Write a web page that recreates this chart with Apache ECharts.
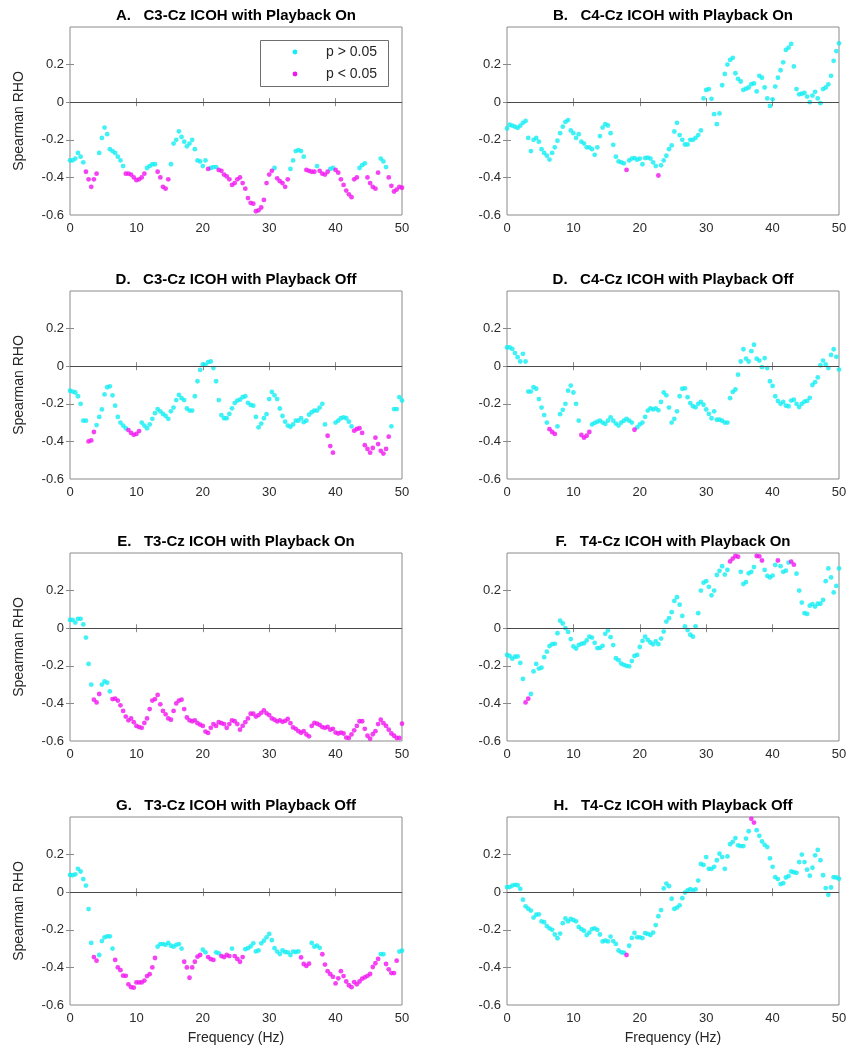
<!DOCTYPE html>
<html>
<head>
<meta charset="utf-8">
<script src="https://cdn.jsdelivr.net/npm/echarts@6/dist/echarts.min.js"></script>
<style>
html,body{margin:0;padding:0;background:#fff;}
#chart{width:851px;height:1061px;}
</style>
</head>
<body>
<div id="chart"></div>
<script>
// Frequency grid (Hz)
const FREQ = [0,0.4,0.8,1.2,1.6,2,2.4,2.8,3.2,3.6,4,4.4,4.8,5.2,5.6,6,6.4,6.8,7.2,7.6,8,8.4,8.8,9.2,9.6,10,10.4,10.8,11.2,11.6,12,12.4,12.8,13.2,13.6,14,14.4,14.8,15.2,15.6,16,16.4,16.8,17.2,17.6,18,18.4,18.8,19.2,19.6,20,20.4,20.8,21.2,21.6,22,22.4,22.8,23.2,23.6,24,24.4,24.8,25.2,25.6,26,26.4,26.8,27.2,27.6,28,28.4,28.8,29.2,29.6,30,30.4,30.8,31.2,31.6,32,32.4,32.8,33.2,33.6,34,34.4,34.8,35.2,35.6,36,36.4,36.8,37.2,37.6,38,38.4,38.8,39.2,39.6,40,40.4,40.8,41.2,41.6,42,42.4,42.8,43.2,43.6,44,44.4,44.8,45.2,45.6,46,46.4,46.8,47.2,47.6,48,48.4,48.8,49.2,49.6,50];

const X_TICKS = [0, 10, 20, 30, 40, 50];
const Y_TICKS = [-0.6, -0.4, -0.2, 0, 0.2];
const X_INNER_TICKS = [10, 20, 30, 40];
const Y_INNER_TICKS = [-0.4, -0.2, 0, 0.2];

const TITLES = [
  'A.   C3-Cz ICOH with Playback On',
  'B.   C4-Cz ICOH with Playback On',
  'D.   C3-Cz ICOH with Playback Off',
  'D.   C4-Cz ICOH with Playback Off',
  'E.   T3-Cz ICOH with Playback On',
  'F.   T4-Cz ICOH with Playback On',
  'G.   T3-Cz ICOH with Playback Off',
  'H.   T4-Cz ICOH with Playback Off'
];

const LEGEND_NAMES = ['p > 0.05', 'p < 0.05'];

// Spearman RHO values per panel
const A_RHO = [-0.31,-0.31,-0.30,-0.27,-0.29,-0.32,-0.37,-0.41,-0.45,-0.41,
-0.38,-0.27,-0.19,-0.135,-0.17,-0.25,-0.26,-0.27,-0.29,-0.31,
-0.34,-0.38,-0.38,-0.385,-0.40,-0.415,-0.41,-0.40,-0.38,-0.35,
-0.34,-0.33,-0.33,-0.37,-0.40,-0.45,-0.46,-0.41,-0.33,-0.22,
-0.20,-0.155,-0.185,-0.21,-0.235,-0.22,-0.20,-0.25,-0.31,-0.315,
-0.34,-0.31,-0.355,-0.35,-0.345,-0.345,-0.36,-0.365,-0.385,-0.395,
-0.41,-0.44,-0.43,-0.41,-0.40,-0.43,-0.46,-0.51,-0.535,-0.54,
-0.58,-0.575,-0.56,-0.52,-0.43,-0.385,-0.365,-0.35,-0.405,-0.42,
-0.43,-0.45,-0.41,-0.355,-0.31,-0.26,-0.255,-0.26,-0.29,-0.36,
-0.365,-0.37,-0.37,-0.34,-0.365,-0.38,-0.385,-0.37,-0.355,-0.35,
-0.36,-0.375,-0.41,-0.44,-0.47,-0.49,-0.505,-0.41,-0.40,-0.35,
-0.335,-0.325,-0.40,-0.43,-0.45,-0.46,-0.375,-0.30,-0.315,-0.345,
-0.40,-0.445,-0.475,-0.465,-0.45,-0.455];
const A_SIG = [[6,10],[21,28],[33,37],[52,52],[56,76],[78,82],[89,92],[94,97],[100,108],[112,116],[120,125]];

const B_RHO = [-0.14,-0.12,-0.125,-0.13,-0.137,-0.125,-0.11,-0.10,-0.19,-0.26,
-0.20,-0.19,-0.21,-0.25,-0.27,-0.285,-0.305,-0.27,-0.24,-0.205,
-0.165,-0.13,-0.105,-0.095,-0.15,-0.165,-0.19,-0.17,-0.21,-0.22,
-0.24,-0.24,-0.25,-0.28,-0.24,-0.18,-0.135,-0.117,-0.124,-0.165,
-0.227,-0.29,-0.315,-0.32,-0.325,-0.36,-0.31,-0.30,-0.297,-0.306,
-0.30,-0.33,-0.297,-0.295,-0.30,-0.32,-0.34,-0.39,-0.336,-0.31,
-0.285,-0.25,-0.23,-0.156,-0.11,-0.175,-0.20,-0.225,-0.225,-0.20,
-0.20,-0.19,-0.175,-0.15,0.02,0.065,0.07,0.018,-0.064,-0.117,
-0.06,0.09,0.15,0.20,0.225,0.236,0.154,0.124,0.11,0.065,
0.072,0.078,0.096,0.10,0.057,0.14,0.13,0.078,0.02,-0.02,
0.015,0.083,0.13,0.17,0.212,0.278,0.29,0.31,0.19,0.07,
0.042,0.045,0.05,0.03,0.0,0.035,0.055,0.02,-0.005,0.07,
0.078,0.095,0.14,0.22,0.272,0.313];
const B_SIG = [[45,45],[57,57]];

const C_RHO = [-0.13,-0.135,-0.14,-0.16,-0.20,-0.29,-0.29,-0.40,-0.395,-0.35,
-0.313,-0.27,-0.23,-0.15,-0.112,-0.107,-0.155,-0.21,-0.27,-0.30,
-0.316,-0.33,-0.34,-0.355,-0.365,-0.36,-0.345,-0.30,-0.316,-0.33,
-0.31,-0.28,-0.25,-0.228,-0.24,-0.254,-0.265,-0.28,-0.24,-0.22,
-0.18,-0.153,-0.17,-0.18,-0.225,-0.236,-0.236,-0.16,-0.08,-0.02,
0.01,0.007,0.022,0.025,-0.01,-0.08,-0.18,-0.26,-0.277,-0.277,
-0.254,-0.224,-0.196,-0.183,-0.178,-0.165,-0.16,-0.195,-0.206,-0.21,
-0.27,-0.325,-0.305,-0.277,-0.255,-0.175,-0.137,-0.155,-0.175,-0.225,
-0.265,-0.295,-0.316,-0.322,-0.31,-0.29,-0.29,-0.277,-0.298,-0.29,
-0.258,-0.245,-0.236,-0.236,-0.22,-0.20,-0.31,-0.37,-0.425,-0.46,
-0.30,-0.29,-0.277,-0.272,-0.277,-0.295,-0.32,-0.343,-0.334,-0.33,
-0.355,-0.42,-0.44,-0.46,-0.435,-0.38,-0.414,-0.45,-0.465,-0.44,
-0.375,-0.32,-0.228,-0.228,-0.165,-0.183];
const C_SIG = [[7,9],[22,26],[97,99],[107,120]];

const D_RHO = [0.10,0.10,0.092,0.07,0.048,0.025,0.066,0.025,-0.135,-0.135,
-0.112,-0.12,-0.175,-0.22,-0.26,-0.30,-0.335,-0.35,-0.36,-0.32,
-0.255,-0.232,-0.20,-0.13,-0.103,-0.14,-0.20,-0.29,-0.366,-0.38,
-0.37,-0.35,-0.31,-0.302,-0.295,-0.29,-0.30,-0.307,-0.29,-0.272,
-0.29,-0.305,-0.316,-0.30,-0.29,-0.28,-0.29,-0.30,-0.338,-0.325,
-0.31,-0.30,-0.27,-0.236,-0.224,-0.23,-0.224,-0.235,-0.19,-0.14,
-0.155,-0.22,-0.30,-0.28,-0.24,-0.16,-0.12,-0.118,-0.165,-0.196,
-0.213,-0.219,-0.20,-0.19,-0.205,-0.23,-0.254,-0.277,-0.24,-0.285,
-0.285,-0.29,-0.30,-0.30,-0.17,-0.137,-0.124,-0.045,0.025,0.09,
0.04,0.025,0.08,0.114,0.04,0.03,-0.005,0.043,-0.01,-0.08,
-0.105,-0.16,-0.185,-0.20,-0.19,-0.21,-0.213,-0.183,-0.178,-0.20,
-0.217,-0.20,-0.188,-0.185,-0.168,-0.10,-0.085,-0.06,0.005,0.03,
0.01,-0.01,0.06,0.09,0.05,-0.018];
const D_SIG = [[16,18],[28,31],[48,48]];

const E_RHO = [0.044,0.044,0.03,0.05,0.05,0.02,-0.05,-0.19,-0.30,-0.38,
-0.395,-0.35,-0.30,-0.283,-0.29,-0.336,-0.377,-0.375,-0.385,-0.41,
-0.44,-0.47,-0.49,-0.48,-0.50,-0.52,-0.526,-0.53,-0.504,-0.48,
-0.43,-0.385,-0.377,-0.355,-0.405,-0.44,-0.458,-0.48,-0.487,-0.44,
-0.40,-0.385,-0.38,-0.43,-0.475,-0.49,-0.495,-0.49,-0.505,-0.513,
-0.52,-0.55,-0.557,-0.53,-0.51,-0.52,-0.50,-0.505,-0.51,-0.53,
-0.51,-0.49,-0.495,-0.51,-0.54,-0.52,-0.50,-0.48,-0.455,-0.455,
-0.47,-0.462,-0.45,-0.437,-0.453,-0.462,-0.48,-0.487,-0.496,-0.49,
-0.498,-0.493,-0.483,-0.505,-0.528,-0.535,-0.548,-0.556,-0.548,-0.565,
-0.575,-0.52,-0.504,-0.508,-0.515,-0.526,-0.53,-0.525,-0.54,-0.535,
-0.555,-0.56,-0.555,-0.56,-0.582,-0.584,-0.565,-0.543,-0.52,-0.495,
-0.495,-0.535,-0.572,-0.588,-0.564,-0.548,-0.51,-0.487,-0.505,-0.52,
-0.54,-0.56,-0.572,-0.584,-0.584,-0.508];
const E_SIG = [[9,11],[16,125]];

const F_RHO = [-0.142,-0.148,-0.162,-0.152,-0.15,-0.185,-0.27,-0.395,-0.375,-0.35,
-0.23,-0.19,-0.215,-0.21,-0.154,-0.125,-0.095,-0.085,-0.083,-0.027,
0.04,0.025,0.0,-0.02,-0.058,-0.097,-0.108,-0.09,-0.083,-0.08,
-0.065,-0.045,-0.05,-0.078,-0.106,-0.105,-0.094,-0.03,-0.012,-0.048,
-0.09,-0.16,-0.17,-0.188,-0.195,-0.20,-0.203,-0.175,-0.148,-0.142,
-0.10,-0.068,-0.045,-0.062,-0.076,-0.086,-0.07,-0.085,-0.055,-0.018,
0.035,0.053,0.085,0.145,0.165,0.125,0.065,0.01,-0.01,-0.035,
-0.045,0.01,0.08,0.20,0.242,0.25,0.22,0.175,0.20,0.283,
0.305,0.33,0.285,0.31,0.355,0.37,0.384,0.38,0.30,0.235,
0.245,0.292,0.30,0.325,0.384,0.382,0.36,0.31,0.278,0.27,
0.28,0.336,0.36,0.33,0.30,0.306,0.349,0.354,0.338,0.29,
0.20,0.136,0.08,0.076,0.12,0.128,0.115,0.13,0.13,0.15,
0.25,0.318,0.27,0.19,0.225,0.318];
const F_SIG = [[7,8],[84,87],[94,96],[102,102],[107,108]];

const G_RHO = [0.092,0.09,0.095,0.124,0.11,0.07,0.035,-0.09,-0.27,-0.345,
-0.364,-0.334,-0.26,-0.24,-0.235,-0.235,-0.30,-0.36,-0.40,-0.415,
-0.444,-0.445,-0.49,-0.505,-0.508,-0.48,-0.48,-0.48,-0.47,-0.446,
-0.436,-0.40,-0.35,-0.29,-0.276,-0.276,-0.28,-0.27,-0.285,-0.29,
-0.28,-0.276,-0.30,-0.37,-0.40,-0.455,-0.40,-0.37,-0.343,-0.334,
-0.306,-0.32,-0.345,-0.356,-0.36,-0.32,-0.325,-0.34,-0.345,-0.334,
-0.34,-0.30,-0.34,-0.355,-0.37,-0.345,-0.303,-0.298,-0.288,-0.272,
-0.315,-0.31,-0.272,-0.258,-0.24,-0.222,-0.255,-0.298,-0.316,-0.329,
-0.31,-0.318,-0.32,-0.334,-0.316,-0.318,-0.315,-0.347,-0.382,-0.392,
-0.38,-0.27,-0.29,-0.284,-0.296,-0.33,-0.385,-0.42,-0.436,-0.45,
-0.485,-0.458,-0.42,-0.446,-0.475,-0.495,-0.505,-0.478,-0.49,-0.475,
-0.46,-0.453,-0.445,-0.435,-0.398,-0.378,-0.355,-0.329,-0.33,-0.382,
-0.41,-0.43,-0.43,-0.364,-0.316,-0.311];
const G_SIG = [[9,10],[17,32],[43,49],[52,54],[57,60],[62,65],[87,90],[95,116],[119,123]];

const H_RHO = [0.027,0.027,0.035,0.039,0.037,0.018,-0.04,-0.075,-0.088,-0.098,
-0.135,-0.12,-0.118,-0.155,-0.16,-0.18,-0.192,-0.20,-0.225,-0.245,
-0.22,-0.165,-0.14,-0.155,-0.142,-0.148,-0.155,-0.185,-0.196,-0.205,
-0.228,-0.215,-0.196,-0.192,-0.20,-0.225,-0.262,-0.258,-0.262,-0.236,
-0.26,-0.275,-0.31,-0.32,-0.322,-0.334,-0.285,-0.243,-0.217,-0.24,
-0.24,-0.244,-0.218,-0.222,-0.228,-0.215,-0.175,-0.128,-0.095,0.02,
0.046,0.032,-0.035,-0.089,-0.082,-0.07,-0.032,-0.002,0.01,0.016,
0.01,0.015,0.062,0.15,0.145,0.187,0.124,0.124,0.135,0.17,
0.205,0.187,0.124,0.19,0.255,0.268,0.288,0.249,0.245,0.245,
0.285,0.324,0.39,0.37,0.33,0.30,0.27,0.252,0.24,0.18,
0.135,0.08,0.07,0.043,0.048,0.078,0.085,0.11,0.106,0.103,
0.16,0.20,0.16,0.12,0.088,0.13,0.196,0.225,0.17,0.09,
0.022,-0.014,0.025,0.08,0.078,0.071];
const H_SIG = [[45,45],[92,93]];

const RHOS = [A_RHO, B_RHO, C_RHO, D_RHO, E_RHO, F_RHO, G_RHO, H_RHO];
const SIGS = [A_SIG, B_SIG, C_SIG, D_SIG, E_SIG, F_SIG, G_SIG, H_SIG];

RHOS.forEach((r, k) => { if (r.length !== FREQ.length) console.error('length mismatch panel ' + k + ': ' + r.length); });

// ---- layout ----
const FONT = '"Liberation Sans", Arial, Helvetica, sans-serif';
const CYAN = '#12eef2';
const MAGENTA = '#f014f0';
const COL_LEFT = [70, 507];
const ROW_TOP = [27, 291, 553, 817];
const GW = 332, GH = 188;
const AXIS_COLOR = '#8a8a8a';
const LABEL_COLOR = '#2a2a2a';

function points(rho, sig, wantSig) {
  const flag = rho.map(() => false);
  sig.forEach(([a, b]) => { for (let i = a; i <= b; i++) flag[i] = true; });
  const out = [];
  rho.forEach((v, i) => { if (flag[i] === wantSig) out.push([FREQ[i], v]); });
  return out;
}

const grids = [], xAxes = [], yAxes = [], series = [], graphics = [];
const yFmt = v => { const r = Math.round(v * 10) / 10; return Y_TICKS.some(t => Math.abs(t - r) < 1e-9) ? String(r) : ''; };
const xFmt = v => X_TICKS.indexOf(Math.round(v)) >= 0 ? String(Math.round(v)) : '';

for (let k = 0; k < 8; k++) {
  const col = k % 2, row = Math.floor(k / 2);
  const left = COL_LEFT[col], top = ROW_TOP[row];
  grids.push({ left: left, top: top, width: GW, height: GH, show: true, borderColor: AXIS_COLOR, borderWidth: 1, backgroundColor: '#fff', containLabel: false, outerBoundsMode: 'none' });
  const xTick = { show: true, inside: true, length: 4, customValues: X_INNER_TICKS, lineStyle: { color: AXIS_COLOR, width: 1 } };
  const yTick = { show: true, inside: true, length: 4, customValues: Y_INNER_TICKS, lineStyle: { color: AXIS_COLOR, width: 1 } };
  xAxes.push({ gridIndex: k, type: 'value', min: 0, max: 50, interval: 10, position: 'bottom',
    axisLine: { show: false }, axisTick: xTick, splitLine: { show: false },
    axisLabel: { show: true, formatter: xFmt, fontSize: 13, color: LABEL_COLOR, fontFamily: FONT, margin: 7 } });
  xAxes.push({ gridIndex: k, type: 'value', min: 0, max: 50, interval: 10, position: 'top',
    axisLine: { show: false }, axisTick: xTick, splitLine: { show: false }, axisLabel: { show: false } });
  yAxes.push({ gridIndex: k, type: 'value', min: -0.6, max: 0.3999, interval: 0.2, position: 'left',
    axisLine: { show: false }, axisTick: yTick, splitLine: { show: false },
    axisLabel: { show: true, formatter: yFmt, showMaxLabel: false, fontSize: 13, color: LABEL_COLOR, fontFamily: FONT, margin: 6 } });
  yAxes.push({ gridIndex: k, type: 'value', min: -0.6, max: 0.3999, interval: 0.2, position: 'right',
    axisLine: { show: false }, axisTick: yTick, splitLine: { show: false }, axisLabel: { show: false } });

  series.push({
    name: LEGEND_NAMES[0], type: 'scatter', xAxisIndex: 2 * k, yAxisIndex: 2 * k,
    data: points(RHOS[k], SIGS[k], false), symbol: 'circle', symbolSize: 4.8,
    itemStyle: { color: CYAN }, silent: true,
    markLine: { silent: true, symbol: 'none', label: { show: false }, animation: false,
      lineStyle: { color: '#4a4a4a', width: 1, type: 'solid' }, data: [{ yAxis: 0 }] }
  });
  series.push({
    name: LEGEND_NAMES[1], type: 'scatter', xAxisIndex: 2 * k, yAxisIndex: 2 * k,
    data: points(RHOS[k], SIGS[k], true), symbol: 'circle', symbolSize: 4.8,
    itemStyle: { color: MAGENTA }, silent: true
  });

  // title
  graphics.push({ type: 'text', x: left + GW / 2, y: top - 11, silent: true,
    style: { text: TITLES[k], font: 'bold 15px ' + FONT, fill: '#000', align: 'center', verticalAlign: 'middle', textAlign: 'center', textVerticalAlign: 'middle' } });
  if (col === 0) {
    graphics.push({ type: 'text', x: 19, y: top + GH / 2, rotation: Math.PI / 2, silent: true,
      style: { text: 'Spearman RHO', font: '14px ' + FONT, fill: '#262626', align: 'center', verticalAlign: 'middle', textAlign: 'center', textVerticalAlign: 'middle' } });
  }
  if (row === 3) {
    graphics.push({ type: 'text', x: left + GW / 2, y: top + GH + 33, silent: true,
      style: { text: 'Frequency (Hz)', font: '14px ' + FONT, fill: '#262626', align: 'center', verticalAlign: 'middle', textAlign: 'center', textVerticalAlign: 'middle' } });
  }
}

// legend box in panel A
graphics.push({ type: 'rect', shape: { x: 260.5, y: 40.5, width: 128, height: 46 }, silent: true, z: 10,
  style: { fill: '#fff', stroke: '#6e6e6e', lineWidth: 1 } });
[[52, CYAN, LEGEND_NAMES[0]], [74, MAGENTA, LEGEND_NAMES[1]]].forEach(([yy, c, t]) => {
  graphics.push({ type: 'circle', shape: { cx: 295, cy: yy, r: 2.4 }, silent: true, z: 11, style: { fill: c } });
  graphics.push({ type: 'text', x: 326, y: yy, silent: true, z: 11,
    style: { text: t, font: '14px ' + FONT, fill: '#262626', align: 'left', verticalAlign: 'middle', textAlign: 'left', textVerticalAlign: 'middle' } });
});

const chart = echarts.init(document.getElementById('chart'), null, { renderer: 'canvas' });
chart.setOption({
  backgroundColor: '#fff',
  animation: false,
  grid: grids,
  xAxis: xAxes,
  yAxis: yAxes,
  series: series,
  graphic: { elements: graphics }
});
</script>
</body>
</html>
